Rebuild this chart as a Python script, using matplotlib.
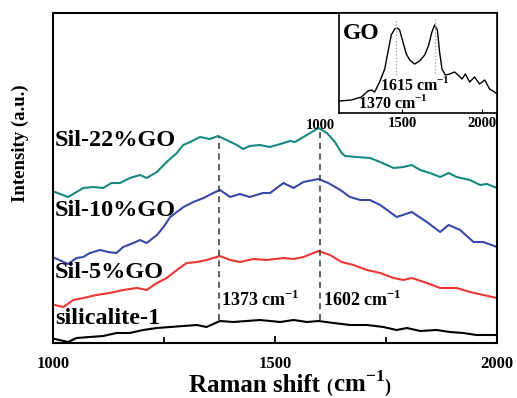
import matplotlib
matplotlib.use("Agg")
import matplotlib.pyplot as plt
from matplotlib.offsetbox import TextArea, HPacker, AnchoredOffsetbox

plt.rcParams['font.family'] = ['Liberation Serif', 'DejaVu Serif']
plt.rcParams['mathtext.fontset'] = 'custom'
plt.rcParams['mathtext.rm'] = 'Liberation Serif:bold'
plt.rcParams['mathtext.bf'] = 'Liberation Serif:bold'

# ---- data (intensity in arbitrary units) ----
x22 = [1004, 1034, 1053, 1068, 1091, 1113, 1132, 1151, 1173, 1196, 1211, 1234, 1256, 1279,
       1293, 1309, 1331, 1353, 1372, 1391, 1414, 1428, 1443, 1466, 1489, 1512, 1534, 1545,
       1564, 1583, 1598, 1617, 1635, 1650, 1658, 1684, 1714, 1737, 1767, 1789, 1808, 1827,
       1849, 1872, 1891, 1909, 1939, 1962, 1977, 2000]
y22 = [151, 146, 151, 155, 156, 155, 160, 160, 165, 168, 165, 171, 181, 190,
       198, 201, 206, 204, 207, 203, 198, 194, 197, 198, 196, 199, 202, 201,
       206, 211, 215, 210, 201, 190, 187, 186, 185, 181, 175, 176, 178, 173,
       170, 166, 170, 166, 163, 158, 159, 155]

x10 = [1004, 1034, 1053, 1068, 1083, 1106, 1124, 1143, 1158, 1181, 1196, 1211, 1234, 1249,
       1264, 1279, 1294, 1316, 1339, 1361, 1376, 1399, 1421, 1443, 1473, 1489, 1519, 1542,
       1564, 1598, 1620, 1647, 1669, 1692, 1714, 1737, 1774, 1808, 1842, 1872, 1891, 1917,
       1947, 1969, 2000]
y10 = [85, 79, 85, 86, 90, 93, 91, 90, 96, 100, 103, 100, 108, 116,
       126, 131, 136, 141, 145, 150, 153, 146, 149, 146, 150, 150, 160, 155,
       161, 164, 160, 153, 146, 143, 143, 138, 126, 131, 121, 111, 118, 113,
       101, 101, 96]

x5 = [1004, 1023, 1046, 1068, 1098, 1128, 1158, 1189, 1211, 1234, 1256, 1279, 1301, 1324,
      1346, 1376, 1399, 1421, 1451, 1481, 1519, 1542, 1564, 1598, 1624, 1650, 1677, 1707,
      1737, 1767, 1789, 1808, 1842, 1872, 1909, 1939, 1969, 2000]
y5 = [38, 36, 43, 45, 48, 50, 53, 55, 53, 60, 65, 73, 80, 81,
      83, 87, 83, 81, 84, 83, 85, 84, 86, 92, 88, 81, 78, 73,
      70, 65, 63, 65, 60, 55, 55, 51, 48, 45]

xs = [1004, 1034, 1053, 1083, 1113, 1143, 1173, 1203, 1234, 1264, 1294, 1324, 1346, 1376,
      1406, 1436, 1466, 1489, 1512, 1542, 1572, 1598, 1632, 1669, 1707, 1744, 1774, 1797,
      1827, 1864, 1894, 1924, 1954, 1984, 2000]
ys = [4, 1, 5, 6, 7, 10, 10, 13, 15, 16, 17, 18, 16, 22,
      21, 22, 23, 22, 21, 23, 21, 22, 20, 18, 18, 16, 13, 15,
      12, 13, 11, 10, 8, 8, 8]

xgo = [1110, 1183, 1246, 1287, 1308, 1329, 1360, 1392, 1412, 1433, 1454, 1471, 1485, 1506,
       1527, 1548, 1579, 1610, 1642, 1667, 1687, 1704, 1721, 1735, 1750, 1771, 1798, 1829,
       1850, 1875, 1896, 1923, 1954, 1985, 2017, 2048, 2079, 2094]
ygo = [12, 13, 16, 22, 23, 21, 31, 44, 61, 78, 84, 85, 83, 71,
       59, 53, 49, 52, 58, 68, 81, 88, 83, 61, 44, 38, 39, 41,
       38, 34, 39, 31, 36, 29, 33, 24, 21, 19]

labels = ["Sil-22%GO", "Sil-10%GO", "Sil-5%GO", "silicalite-1"]
colors = ["#168a80", "#3a48a8", "#f03535", "#000000"]
peaks = [1373, 1602]
go_peaks = [1465, 1704]

fig = plt.figure(figsize=(5.17, 3.98), dpi=100)
ax = fig.add_axes([53/517, 1-343/398, 444/517, 330/398])

series = [(x22, y22), (x10, y10), (x5, y5), (xs, ys)]
for (xx, yy), c in zip(series, colors):
    ax.plot(xx, yy, color=c, lw=1.5)

ax.plot([peaks[0], peaks[0]], [23, 206], ls=(0, (4, 3)), color='#333333', lw=1.1)
ax.plot([peaks[1], peaks[1]], [23, 215], ls=(0, (4, 3)), color='#333333', lw=1.1)

ax.set_xlim(1000, 2000)
ax.set_ylim(0, 330)
ax.set_xticks([1000, 1500, 2000])
ax.set_xticks([1250, 1750], minor=True)
ax.set_yticks([])
ax.tick_params(axis='x', which='both', direction='in', top=False, labelsize=12, pad=9)
ax.tick_params(axis='x', which='major', length=5, width=1.3)
ax.tick_params(axis='x', which='minor', length=4, width=1.3)
for lab in ax.get_xticklabels():
    lab.set_fontweight('bold')
for s in ax.spines.values():
    s.set_linewidth(1.5)

# x label with small parentheses
bold = dict(fontweight='bold')
parts = [TextArea("Raman shift ", textprops=dict(fontsize=18, **bold)),
         TextArea("(", textprops=dict(fontsize=13, **bold)),
         TextArea(r"cm$^{-1}$", textprops=dict(fontsize=18, **bold)),
         TextArea(")", textprops=dict(fontsize=13, **bold))]
box = HPacker(children=parts, align="baseline", pad=0, sep=0)
anch = AnchoredOffsetbox(loc='center', child=box, pad=0, frameon=False,
                         bbox_to_anchor=(290/517, 1-384/398),
                         bbox_transform=fig.transFigure, borderpad=0)
fig.add_artist(anch)

fig.text(20/517, 1-143/398, "Intensity (a.u.)", rotation=90, ha='center', va='center',
         fontsize=13.5, fontweight='bold')

label_y = [203, 133, 70, 25]
for lab, yy in zip(labels, label_y):
    ax.text(1004, yy, lab, fontsize=17.5, fontweight='bold', va='center', ha='left')

ax.text(1378, 43, r"1373 cm$^{-1}$", fontsize=13, fontweight='bold', va='center', ha='left')
ax.text(1608, 43, r"1602 cm$^{-1}$", fontsize=13, fontweight='bold', va='center', ha='left')

# ---- inset ----
ins = fig.add_axes([339/517, 1-113/398, 158/517, 100/398])
ins.plot(xgo, ygo, color='black', lw=1.0)
ins.plot([go_peaks[0], go_peaks[0]], [38, 94], ls=':', color='#999999', lw=0.9)
ins.plot([go_peaks[1], go_peaks[1]], [40, 94], ls=':', color='#999999', lw=0.9)
ins.set_xlim(1106, 2094)
ins.set_ylim(0, 100)
ins.set_yticks([])
ins.set_xticks([1500, 2000])
ins.tick_params(axis='x', direction='in', length=3, labelsize=10.5, pad=3)
for lab in ins.get_xticklabels():
    lab.set_fontweight('bold')
ins.text(-0.12, -0.06, "1000", transform=ins.transAxes, fontsize=10.5, fontweight='bold',
         ha='center', va='top')
for s in ins.spines.values():
    s.set_linewidth(1.2)
ins.text(0.025, 0.80, "GO", transform=ins.transAxes, fontsize=17, fontweight='bold',
         va='center', ha='left')
ins.text(1363, 28, r"1615 cm$^{-1}$", fontsize=11.5, fontweight='bold', va='center', ha='left')
ins.text(1225, 10, r"1370 cm$^{-1}$", fontsize=11.5, fontweight='bold', va='center', ha='left')

fig.savefig("out.png", dpi=100)
